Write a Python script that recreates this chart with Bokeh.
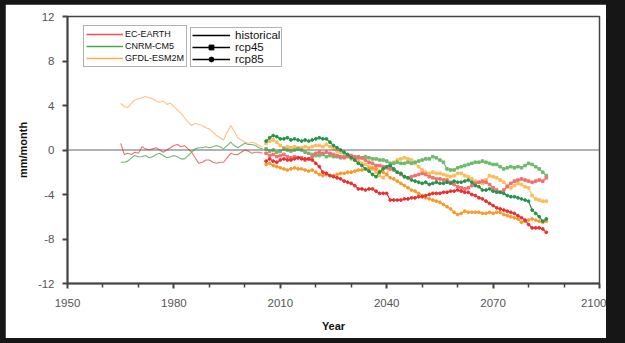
from bokeh.plotting import figure
from bokeh.models import (Range1d, FixedTicker, Span, Legend, LegendItem,
                          ColumnDataSource, GlobalInlineStyleSheet)
from bokeh.embed import file_html
from bokeh.resources import INLINE

# ---------------- data ----------------
hist_years = list(range(1965, 2006))
rcp_years = list(range(2006, 2086))

ec_hist = [0.6, -0.4, -0.3, -0.4, -0.2, -0.3, 0.3, 0.1, 0.0, 0.1,
           0.2, 0.0, -0.2, 0.0, 0.2, 0.4, 0.5, 0.3, 0.4, 0.1,
           -0.2, -0.7, -1.2, -1.1, -0.9, -0.9, -1.1, -1.2, -1.1, -1.1,
           -0.7, -0.3, -0.4, -0.4, -0.2, 0.0, -0.1, -0.3, -0.2, -0.2, -0.3]
cnrm_hist = [-1.1, -1.1, -1.0, -0.7, -0.5, -0.6, -0.6, -0.5, -0.7, -0.6,
             -0.4, -0.3, -0.5, -0.7, -0.6, -0.5, -0.6, -0.8, -0.8, -0.5,
             -0.2, 0.1, 0.2, 0.2, 0.3, 0.2, 0.3, 0.4, 0.3, 0.1,
             0.4, 0.7, 0.4, 0.2, 0.4, 0.6, 0.5, 0.5, 0.4, 0.2, 0.1]
gfdl_hist = [4.2, 3.9, 3.8, 4.2, 4.5, 4.6, 4.7, 4.8, 4.7, 4.6,
             4.4, 4.3, 4.4, 4.1, 4.2, 3.9, 3.6, 3.3, 2.9, 2.5,
             2.2, 2.4, 2.3, 2.2, 2.0, 1.9, 1.6, 1.3, 1.1, 0.9,
             1.6, 2.2, 1.7, 1.1, 0.9, 0.7, 0.6, 0.7, 0.6, 0.4, 0.3]

ec_rcp45 = [-0.3, -0.5, -0.4, -0.6, -0.5, -0.4, -0.6, -0.7, -0.6, -0.7,
            -0.7, -0.9, -0.8, -0.6, -0.3, -0.2, -0.3, -0.2, -0.3, -0.4,
            -0.5, -0.6, -0.7, -0.6, -0.5, -0.6, -0.7, -0.7, -0.9, -1.1,
            -1.2, -1.4, -1.4, -1.5, -1.6, -1.7, -1.8, -2.0, -2.2, -2.4,
            -2.5, -2.4, -2.3, -2.2, -2.1, -2.2, -2.4, -2.5, -2.6, -2.6,
            -2.7, -2.7, -2.9, -3.1, -3.3, -3.4, -3.5, -3.4, -3.2, -3.0,
            -2.9, -2.8, -2.9, -3.1, -3.4, -3.6, -3.8, -3.6, -3.3, -3.0,
            -2.8, -2.7, -2.6, -2.7, -2.8, -2.9, -2.8, -2.7, -2.8, -2.5]
ec_rcp85 = [-1.0, -0.8, -1.0, -1.1, -0.9, -0.8, -0.9, -0.9, -0.8, -0.7,
            -0.8, -0.8, -0.8, -0.9, -1.2, -1.5, -2.0, -2.1, -2.3, -2.4,
            -2.5, -2.6, -2.8, -2.9, -3.0, -3.2, -3.5, -3.5, -3.6, -3.5,
            -3.5, -3.7, -3.9, -3.9, -3.9, -4.5, -4.5, -4.5, -4.5, -4.4,
            -4.4, -4.3, -4.3, -4.2, -4.2, -4.1, -4.0, -3.9, -3.9, -3.9,
            -3.8, -3.8, -3.7, -3.7, -3.6, -3.7, -3.8, -3.8, -4.0, -4.1,
            -4.3, -4.4, -4.6, -4.8, -5.0, -5.2, -5.3, -5.4, -5.5, -5.6,
            -5.7, -5.9, -6.1, -6.3, -6.7, -7.0, -7.0, -7.0, -7.1, -7.4]
cnrm_rcp45 = [0.1, -0.1, 0.0, -0.2, -0.1, 0.1, 0.0, -0.1, 0.0, 0.1,
              0.0, -0.2, -0.3, -0.4, -0.5, -0.5, -0.4, -0.6, -0.5, -0.6,
              -0.6, -0.7, -0.6, -0.5, -0.6, -0.7, -0.6, -0.7, -0.6, -0.7,
              -0.8, -0.8, -0.9, -0.9, -1.0, -1.2, -1.2, -1.1, -1.2, -1.2,
              -1.1, -1.2, -1.1, -1.0, -0.9, -0.8, -0.8, -0.6, -0.7, -0.9,
              -1.1, -1.7, -1.8, -1.8, -1.6, -1.5, -1.4, -1.3, -1.2, -1.1,
              -1.1, -1.0, -1.1, -1.2, -1.3, -1.3, -1.5, -1.7, -1.6, -1.5,
              -1.6, -1.5, -1.6, -1.4, -1.2, -1.3, -1.5, -1.7, -2.0, -2.3]
cnrm_rcp85 = [0.8, 1.1, 1.3, 1.2, 1.0, 1.0, 1.1, 0.9, 1.0, 0.9,
              0.8, 0.9, 0.8, 0.9, 1.0, 1.1, 1.0, 1.0, 0.7, 0.4,
              0.2, 0.0, -0.2, -0.4, -0.7, -0.9, -1.2, -1.4, -1.7, -1.9,
              -2.2, -2.4, -2.0, -1.7, -1.5, -1.4, -1.7, -2.0, -2.1, -2.4,
              -2.5, -2.7, -2.8, -2.9, -3.0, -2.9, -3.1, -3.0, -2.9, -3.0,
              -3.0, -2.9, -3.0, -2.8, -2.9, -2.9, -2.8, -2.7, -2.9, -3.2,
              -3.3, -3.6, -3.6, -3.5, -3.7, -3.8, -3.8, -3.9, -4.1, -4.2,
              -4.2, -4.3, -4.4, -4.5, -4.6, -5.4, -5.7, -6.0, -6.4, -6.2]
gfdl_rcp45 = [0.6, 0.8, 0.9, 0.7, 0.4, 0.2, 0.3, 0.2, 0.3, 0.2,
              0.2, 0.3, 0.2, 0.3, 0.4, 0.4, 0.3, 0.5, 0.3, 0.1,
              -0.1, -0.2, -0.3, -0.5, -0.8, -0.9, -1.0, -1.2, -1.3, -1.5,
              -1.7, -2.0, -2.3, -2.5, -2.2, -1.4, -1.1, -0.9, -0.8, -0.7,
              -0.8, -0.9, -1.2, -1.5, -1.8, -2.0, -2.1, -2.0, -2.1, -2.1,
              -2.2, -2.3, -2.4, -2.3, -2.1, -2.1, -2.3, -2.4, -2.6, -2.8,
              -2.9, -3.0, -2.7, -2.3, -2.4, -2.5, -2.7, -2.9, -3.2, -3.4,
              -3.2, -3.0, -3.1, -3.3, -3.4, -4.1, -4.4, -4.5, -4.6, -4.6]
gfdl_rcp85 = [-1.3, -1.2, -1.4, -1.5, -1.6, -1.7, -1.8, -1.7, -1.6, -1.7,
              -1.7, -1.8, -1.9, -1.8, -2.0, -2.2, -2.3, -2.2, -2.3, -2.3,
              -2.2, -2.1, -2.1, -2.0, -2.0, -1.9, -1.8, -1.8, -1.7, -1.7,
              -1.6, -1.7, -1.9, -2.0, -2.2, -2.5, -2.6, -2.8, -3.0, -3.2,
              -3.4, -3.6, -3.7, -3.9, -4.1, -4.3, -4.4, -4.5, -4.6, -4.7,
              -4.9, -5.1, -5.3, -5.6, -5.8, -5.7, -5.5, -5.6, -5.6, -5.6,
              -5.6, -5.7, -5.7, -5.6, -5.7, -5.6, -5.6, -5.8, -5.9, -6.0,
              -6.1, -6.2, -6.5, -6.4, -6.3, -6.2, -6.3, -6.4, -6.5, -6.4]

x_major = [1950, 1980, 2010, 2040, 2070, 2100]
x_minor = [1960, 1970, 1990, 2000, 2020, 2030, 2050, 2060, 2080, 2090]
y_ticks = [-12, -8, -4, 0, 4, 8, 12]
y_tick_labels = ["-12", "-8", "-4", "0", "4", "8", "12"]

models = ["EC-EARTH", "CNRM-CM5", "GFDL-ESM2M"]
scenarios = ["historical", "rcp45", "rcp85"]

# ---------------- figure ----------------
p = figure(width=601, height=334, output_backend="svg", toolbar_location=None,
           x_range=Range1d(1950, 2100), y_range=Range1d(-12, 12),
           min_border_left=62, min_border_right=7, min_border_top=12,
           min_border_bottom=55)
p.margin = (4, 0, 0, 5)
p.stylesheets = [GlobalInlineStyleSheet(css="body{background:#161616;}")]
p.background_fill_color = "white"
p.border_fill_color = "white"
p.xgrid.visible = False
p.ygrid.visible = False
p.outline_line_color = "#444444"
p.outline_line_width = 1.5

p.xaxis.ticker = FixedTicker(ticks=x_major, minor_ticks=x_minor)
p.yaxis.ticker = FixedTicker(ticks=y_ticks)
p.yaxis.major_label_overrides = {t: s for t, s in zip(y_ticks, y_tick_labels)}
for ax in (p.xaxis[0], p.yaxis[0]):
    ax.axis_line_color = "#444444"
    ax.axis_line_width = 2
    ax.major_tick_line_color = "#444444"
    ax.major_tick_line_width = 2
    ax.major_tick_in = 0
    ax.major_tick_out = 5
    ax.minor_tick_line_color = "#444444"
    ax.minor_tick_line_width = 1.5
    ax.minor_tick_in = 0
    ax.minor_tick_out = 4
    ax.major_label_text_font = "Liberation Sans"
    ax.major_label_text_font_size = "11.5px"
    ax.major_label_text_color = "#555555"
    ax.axis_label_text_font = "Liberation Sans"
    ax.axis_label_text_font_size = "11px"
    ax.axis_label_text_font_style = "bold"
    ax.axis_label_text_color = "#111111"
p.yaxis.minor_tick_line_color = None
p.xaxis.axis_label = "Year"
p.yaxis.axis_label = "mm/month"
p.xaxis.major_label_standoff = 10
p.yaxis.major_label_standoff = 8
p.xaxis.axis_label_standoff = 10
p.yaxis.axis_label_standoff = 6

p.add_layout(Span(location=0, dimension="width", line_color="#666666",
                  line_width=1.2))

# colours
hist_col = {"EC-EARTH": "#f07070", "CNRM-CM5": "#74b874", "GFDL-ESM2M": "#f9c482"}
r45_col = {"EC-EARTH": "#f37070", "CNRM-CM5": "#6cbc6c", "GFDL-ESM2M": "#fbbd5c"}
r85_col = {"EC-EARTH": "#e8302f", "CNRM-CM5": "#24944a", "GFDL-ESM2M": "#f89a28"}
leg_col = {"EC-EARTH": "#f05050", "CNRM-CM5": "#4aaa4a", "GFDL-ESM2M": "#f8b050"}

hist_data = {"EC-EARTH": ec_hist, "CNRM-CM5": cnrm_hist, "GFDL-ESM2M": gfdl_hist}
r45_data = {"EC-EARTH": ec_rcp45, "CNRM-CM5": cnrm_rcp45, "GFDL-ESM2M": gfdl_rcp45}
r85_data = {"EC-EARTH": ec_rcp85, "CNRM-CM5": cnrm_rcp85, "GFDL-ESM2M": gfdl_rcp85}

for m in models:
    p.line(hist_years, hist_data[m], line_color=hist_col[m], line_width=1.1)
for m in ["GFDL-ESM2M", "CNRM-CM5", "EC-EARTH"]:
    src = ColumnDataSource(dict(x=rcp_years, y=r45_data[m]))
    p.line("x", "y", source=src, line_color=r45_col[m], line_width=1.2)
    p.scatter("x", "y", source=src, marker="square", size=2.6,
              fill_color=r45_col[m], line_color=r45_col[m])
for m in ["GFDL-ESM2M", "CNRM-CM5", "EC-EARTH"]:
    src = ColumnDataSource(dict(x=rcp_years, y=r85_data[m]))
    p.line("x", "y", source=src, line_color=r85_col[m], line_width=1.2)
    p.scatter("x", "y", source=src, marker="circle", size=2.8,
              fill_color=r85_col[m], line_color=r85_col[m])

# legends (placeholder renderers holding a single NaN point)
nan = float("nan")
def dummy():
    return ColumnDataSource(dict(x=[nan], y=[nan]))

items1 = []
for m in models:
    r = p.line("x", "y", source=dummy(), line_color=leg_col[m], line_width=1.5)
    items1.append(LegendItem(label=m, renderers=[r]))
items2 = []
rl = p.line("x", "y", source=dummy(), line_color="black", line_width=1.5)
items2.append(LegendItem(label=scenarios[0], renderers=[rl]))
rl2 = p.line("x", "y", source=dummy(), line_color="black", line_width=1.5)
rs2 = p.scatter("x", "y", source=dummy(), marker="square", size=7, color="black")
items2.append(LegendItem(label=scenarios[1], renderers=[rl2, rs2]))
rl3 = p.line("x", "y", source=dummy(), line_color="black", line_width=1.5)
rs3 = p.scatter("x", "y", source=dummy(), marker="circle", size=7, color="black")
items2.append(LegendItem(label=scenarios[2], renderers=[rl3, rs3]))

def style_legend(lg, fs):
    lg.label_text_font = "Liberation Sans"
    lg.label_text_font_size = fs
    lg.label_text_color = "#111111"
    lg.glyph_height = 12
    lg.label_height = 12
    lg.spacing = 0
    lg.padding = 2
    lg.margin = 0
    lg.label_standoff = 2
    lg.border_line_color = "#666666"
    lg.border_line_width = 1.5
    lg.background_fill_color = "white"
    lg.background_fill_alpha = 1.0

leg1 = Legend(items=items1, location=(16, 216))
style_legend(leg1, "9px")
leg1.glyph_width = 37
leg2 = Legend(items=items2, location=(123, 216))
style_legend(leg2, "11.5px")
leg2.glyph_width = 38
leg2.padding = 1
leg2.label_standoff = 5
p.add_layout(leg1)
p.add_layout(leg2)

open("out.html", "w").write(file_html(p, INLINE))
